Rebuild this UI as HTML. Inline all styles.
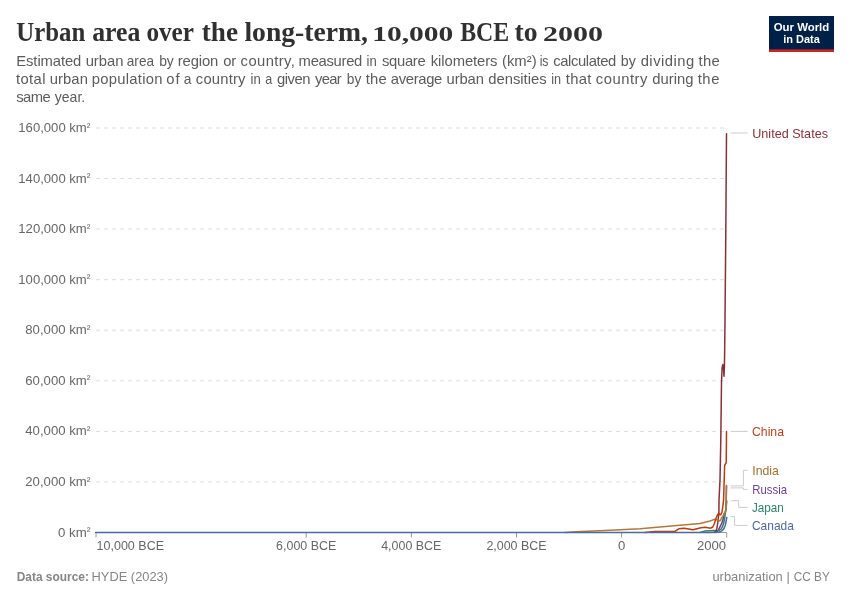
<!DOCTYPE html>
<html><head><meta charset="utf-8"><title>Urban area over the long-term, 10,000 BCE to 2000</title>
<style>
html,body{margin:0;padding:0;background:#fff;}
svg{display:block;}
text{font-family:"Liberation Sans",sans-serif;}
.ttl text{font-family:"Liberation Serif",serif;font-weight:bold;fill:#303030;}
.sub{font-size:14.8px;fill:#5b5b5b;}
.ax{font-size:13px;fill:#666;}
.ft{font-size:12.8px;fill:#858585;}
.lb{font-size:13.3px;}
.grid line{stroke:#ddd;stroke-width:1;stroke-dasharray:4 4;}
.tick line{stroke:#999;stroke-width:1;}
.conn path{fill:none;stroke:#ccc;stroke-width:1;}
.lines path{fill:none;stroke-width:1.5;stroke-linejoin:round;stroke-linecap:round;}
</style></head>
<body>
<svg width="850" height="600" viewBox="0 0 850 600">
<rect width="850" height="600" fill="#fff"/>
<g class="ttl">
<text x="16.24" y="40.6" font-size="28" textLength="68.96" lengthAdjust="spacingAndGlyphs">Urban</text>
<text x="92.20" y="40.6" font-size="28" textLength="48.20" lengthAdjust="spacingAndGlyphs">area</text>
<text x="146.40" y="40.6" font-size="28" textLength="47.60" lengthAdjust="spacingAndGlyphs">over</text>
<text x="201.80" y="40.6" font-size="28" textLength="36.20" lengthAdjust="spacingAndGlyphs">the</text>
<text x="244.40" y="40.6" font-size="28" textLength="123.60" lengthAdjust="spacingAndGlyphs">long-term,</text>
<text x="372.20" y="40.6" font-size="20.5" textLength="81.20" lengthAdjust="spacingAndGlyphs">10,000</text>
<text x="460.20" y="40.6" font-size="28" textLength="49.00" lengthAdjust="spacingAndGlyphs">BCE</text>
<text x="514.60" y="40.6" font-size="28" textLength="23.00" lengthAdjust="spacingAndGlyphs">to</text>
<text x="543.00" y="40.6" font-size="20.5" textLength="60.00" lengthAdjust="spacingAndGlyphs">2000</text>
</g>
<g class="sub">
<text x="16.30" y="66.3" textLength="65.00" lengthAdjust="spacing">Estimated</text>
<text x="85.64" y="66.3" textLength="37.75" lengthAdjust="spacing">urban</text>
<text x="126.80" y="66.3" textLength="27.20" lengthAdjust="spacingAndGlyphs">area</text>
<text x="159.14" y="66.3" textLength="14.70" lengthAdjust="spacingAndGlyphs">by</text>
<text x="177.78" y="66.3" textLength="40.55" lengthAdjust="spacing">region</text>
<text x="223.30" y="66.3" textLength="12.94" lengthAdjust="spacing">or</text>
<text x="240.62" y="66.3" textLength="54.26" lengthAdjust="spacing">country,</text>
<text x="298.62" y="66.3" textLength="63.68" lengthAdjust="spacing">measured</text>
<text x="366.48" y="66.3" textLength="10.22" lengthAdjust="spacingAndGlyphs">in</text>
<text x="381.98" y="66.3" textLength="43.71" lengthAdjust="spacing">square</text>
<text x="430.80" y="66.3" textLength="66.70" lengthAdjust="spacing">kilometers</text>
<text x="501.96" y="66.3" textLength="34.62" lengthAdjust="spacing">(km²)</text>
<text x="539.64" y="66.3" textLength="8.88" lengthAdjust="spacingAndGlyphs">is</text>
<text x="553.14" y="66.3" textLength="63.20" lengthAdjust="spacing">calculated</text>
<text x="620.80" y="66.3" textLength="15.04" lengthAdjust="spacingAndGlyphs">by</text>
<text x="640.64" y="66.3" textLength="53.60" lengthAdjust="spacing">dividing</text>
<text x="698.50" y="66.3" textLength="21.32" lengthAdjust="spacing">the</text>
<text x="15.98" y="84.3" textLength="29.50" lengthAdjust="spacing">total</text>
<text x="49.64" y="84.3" textLength="38.25" lengthAdjust="spacing">urban</text>
<text x="91.64" y="84.3" textLength="70.91" lengthAdjust="spacing">population</text>
<text x="166.14" y="84.3" textLength="13.42" lengthAdjust="spacing">of</text>
<text x="183.66" y="84.3" textLength="7.68" lengthAdjust="spacingAndGlyphs">a</text>
<text x="195.80" y="84.3" textLength="49.68" lengthAdjust="spacing">country</text>
<text x="250.48" y="84.3" textLength="10.22" lengthAdjust="spacingAndGlyphs">in</text>
<text x="265.16" y="84.3" textLength="7.00" lengthAdjust="spacingAndGlyphs">a</text>
<text x="277.00" y="84.3" textLength="33.50" lengthAdjust="spacing">given</text>
<text x="315.00" y="84.3" textLength="26.77" lengthAdjust="spacing">year</text>
<text x="346.82" y="84.3" textLength="14.52" lengthAdjust="spacingAndGlyphs">by</text>
<text x="365.66" y="84.3" textLength="20.96" lengthAdjust="spacing">the</text>
<text x="390.80" y="84.3" textLength="51.50" lengthAdjust="spacing">average</text>
<text x="446.62" y="84.3" textLength="37.25" lengthAdjust="spacing">urban</text>
<text x="488.32" y="84.3" textLength="58.29" lengthAdjust="spacing">densities</text>
<text x="551.30" y="84.3" textLength="9.88" lengthAdjust="spacingAndGlyphs">in</text>
<text x="565.66" y="84.3" textLength="25.77" lengthAdjust="spacing">that</text>
<text x="595.80" y="84.3" textLength="51.68" lengthAdjust="spacing">country</text>
<text x="652.16" y="84.3" textLength="41.34" lengthAdjust="spacing">during</text>
<text x="697.66" y="84.3" textLength="21.73" lengthAdjust="spacing">the</text>
<text x="16.32" y="102.3" textLength="34.32" lengthAdjust="spacing">same</text>
<text x="54.82" y="102.3" textLength="30.40" lengthAdjust="spacingAndGlyphs">year.</text>
</g>
<g>
<rect x="769" y="16" width="65" height="36" fill="#002147"/>
<rect x="769" y="49.4" width="65" height="2.6" fill="#ce261e"/>
<text x="801.5" y="30.7" font-size="11.5" font-weight="bold" fill="#fff" text-anchor="middle" textLength="55.5" lengthAdjust="spacingAndGlyphs">Our World</text>
<text x="801.5" y="42.8" font-size="11.5" font-weight="bold" fill="#fff" text-anchor="middle" textLength="36.7" lengthAdjust="spacingAndGlyphs">in Data</text>
</g>
<g class="grid">
<line x1="96.0" x2="726.7" y1="128.0" y2="128.0"/>
<line x1="96.0" x2="726.7" y1="178.6" y2="178.6"/>
<line x1="96.0" x2="726.7" y1="229.1" y2="229.1"/>
<line x1="96.0" x2="726.7" y1="279.7" y2="279.7"/>
<line x1="96.0" x2="726.7" y1="330.2" y2="330.2"/>
<line x1="96.0" x2="726.7" y1="380.8" y2="380.8"/>
<line x1="96.0" x2="726.7" y1="431.4" y2="431.4"/>
<line x1="96.0" x2="726.7" y1="481.9" y2="481.9"/>
</g>
<g class="ax">
<text x="18.3" y="132.0" textLength="72.2" lengthAdjust="spacingAndGlyphs">160,000 km<tspan dy="-1.4" font-size="11">²</tspan></text>
<text x="18.3" y="182.6" textLength="72.2" lengthAdjust="spacingAndGlyphs">140,000 km<tspan dy="-1.4" font-size="11">²</tspan></text>
<text x="18.3" y="233.1" textLength="72.2" lengthAdjust="spacingAndGlyphs">120,000 km<tspan dy="-1.4" font-size="11">²</tspan></text>
<text x="18.3" y="283.7" textLength="72.2" lengthAdjust="spacingAndGlyphs">100,000 km<tspan dy="-1.4" font-size="11">²</tspan></text>
<text x="25.3" y="334.2" textLength="65.2" lengthAdjust="spacingAndGlyphs">80,000 km<tspan dy="-1.4" font-size="11">²</tspan></text>
<text x="25.3" y="384.8" textLength="65.2" lengthAdjust="spacingAndGlyphs">60,000 km<tspan dy="-1.4" font-size="11">²</tspan></text>
<text x="25.3" y="435.4" textLength="65.2" lengthAdjust="spacingAndGlyphs">40,000 km<tspan dy="-1.4" font-size="11">²</tspan></text>
<text x="25.3" y="485.9" textLength="65.2" lengthAdjust="spacingAndGlyphs">20,000 km<tspan dy="-1.4" font-size="11">²</tspan></text>
<text x="58.1" y="536.5" textLength="32.4" lengthAdjust="spacingAndGlyphs">0 km<tspan dy="-1.4" font-size="11">²</tspan></text>
</g>
<g class="tick"><line x1="96.0" x2="726.7" y1="532.5" y2="532.5"/>
<line x1="96.0" x2="96.0" y1="532.5" y2="537.5"/>
<line x1="306.2" x2="306.2" y1="532.5" y2="537.5"/>
<line x1="411.4" x2="411.4" y1="532.5" y2="537.5"/>
<line x1="516.5" x2="516.5" y1="532.5" y2="537.5"/>
<line x1="621.6" x2="621.6" y1="532.5" y2="537.5"/>
<line x1="726.7" x2="726.7" y1="532.5" y2="537.5"/>
</g>
<g class="ax">
<text x="96.6" y="550.2" textLength="67.4" lengthAdjust="spacingAndGlyphs">10,000 BCE</text>
<text x="276.1" y="550.2" textLength="60.2" lengthAdjust="spacingAndGlyphs">6,000 BCE</text>
<text x="381.2" y="550.2" textLength="60.2" lengthAdjust="spacingAndGlyphs">4,000 BCE</text>
<text x="486.4" y="550.2" textLength="60.2" lengthAdjust="spacingAndGlyphs">2,000 BCE</text>
<text x="617.9" y="550.2" textLength="7.3" lengthAdjust="spacingAndGlyphs">0</text>
<text x="696.9" y="550.2" textLength="29.2" lengthAdjust="spacingAndGlyphs">2000</text>
</g>
<g class="lines">
<path stroke="#6d3e91" d="M715.5,532.4 L716.8,531.8 L717.8,530.5 L718.7,529.4 L720.2,526.4 L721.7,523.4 L722.9,520.1 L723.6,516 L724.1,513.7 L725.3,512.5 L725.9,509 L726.2,500 L726.4,485.4"/>
<path stroke="#2c8465" d="M700,532.4 L704.4,531.1 L710,530.8 L713,530.6 L716,530.7 L719,530.4 L721.1,529.1 L722.6,526.4 L723.8,522.8 L724.7,518 L725.3,513.5 L726.2,507 L726.8,501"/>
<path stroke="#883039" d="M714.5,532.4 L715.5,531.5 L716.3,529.7 L716.9,528.2 L717.8,522.8 L718.4,517.4 L718.9,512 L719,500 L720,480 L720.8,440 L721.5,382.5 L722.1,368 L722.8,364.6 L723.4,367 L724,376.3 L724.4,366 L724.6,355 L725,320 L725.7,245 L726.5,133.8"/>
<path stroke="#ad7a3e" d="M565,532.4 L581,531.4 L600,530.7 L640,528.7 L700,523.5 L710,521 L712.4,520.1 L714.5,519.3 L717.2,520.1 L718.4,519.5 L719.6,521 L720.5,520.4 L721.4,518 L722.9,516.2 L724.1,513.5 L725.3,512.3 L725.9,509 L726.2,500 L726.6,486"/>
<path stroke="#b93c0c" d="M645,532.4 L655,531.6 L675.3,531.2 L678.8,528.8 L684.1,528.2 L693,529.7 L700.9,527.7 L705.3,527.2 L710.6,528.2 L712.8,527 L714.2,524 L716,518.6 L717.5,514.7 L719,513.5 L720.2,515 L721.1,514.1 L722,512 L722.9,506 L723.6,499.5 L724.65,465.4 L726.2,462.75 L726.4,445 L726.5,431.5"/>
<path stroke="#4c6a9c" d="M95.5,532.5 L710,532.5 L718.4,532.2 L720.8,531.5 L722.6,530.3 L724.1,528.2 L725.3,525.2 L726.2,521 L726.8,517.4" stroke-linecap="butt"/>
</g>
<g class="conn">
<path d="M730.6,133 H747.6"/>
<path d="M730.6,431.4 H747.6"/>
<path d="M730.6,485.9 H743.4 V470.3 H747.6"/>
<path d="M730.6,487.9 H743.4 V489.4 H747.6"/>
<path d="M730.6,500.7 H738.7 V507.4 H747.6"/>
<path d="M730.6,516.6 H734.6 V525.4 H747.6"/>
</g>
<g class="lb">
<text x="752.2" y="137.6" fill="#883039" textLength="75.8" lengthAdjust="spacingAndGlyphs">United States</text>
<text x="752" y="436" fill="#b8431a" textLength="32" lengthAdjust="spacingAndGlyphs">China</text>
<text x="752.3" y="475.4" fill="#a26f35" textLength="26.6" lengthAdjust="spacingAndGlyphs">India</text>
<text x="752.3" y="493.7" fill="#6d3e91" textLength="34.8" lengthAdjust="spacingAndGlyphs">Russia</text>
<text x="752" y="511.9" fill="#2c8465" textLength="31.8" lengthAdjust="spacingAndGlyphs">Japan</text>
<text x="752" y="530.1" fill="#4c6a9c" textLength="41.8" lengthAdjust="spacingAndGlyphs">Canada</text>
</g>
<g class="ft">
<text x="16.7" y="580.6" font-weight="bold" textLength="72.3" lengthAdjust="spacingAndGlyphs">Data source:</text>
<text x="91.6" y="580.6" textLength="76.4" lengthAdjust="spacingAndGlyphs">HYDE (2023)</text>
<text x="712.4" y="580.6" textLength="70.4" lengthAdjust="spacingAndGlyphs">urbanization</text>
<text x="786.6" y="580.6">|</text>
<text x="793.8" y="580.6" textLength="36" lengthAdjust="spacingAndGlyphs">CC BY</text>
</g>
</svg>
</body></html>
